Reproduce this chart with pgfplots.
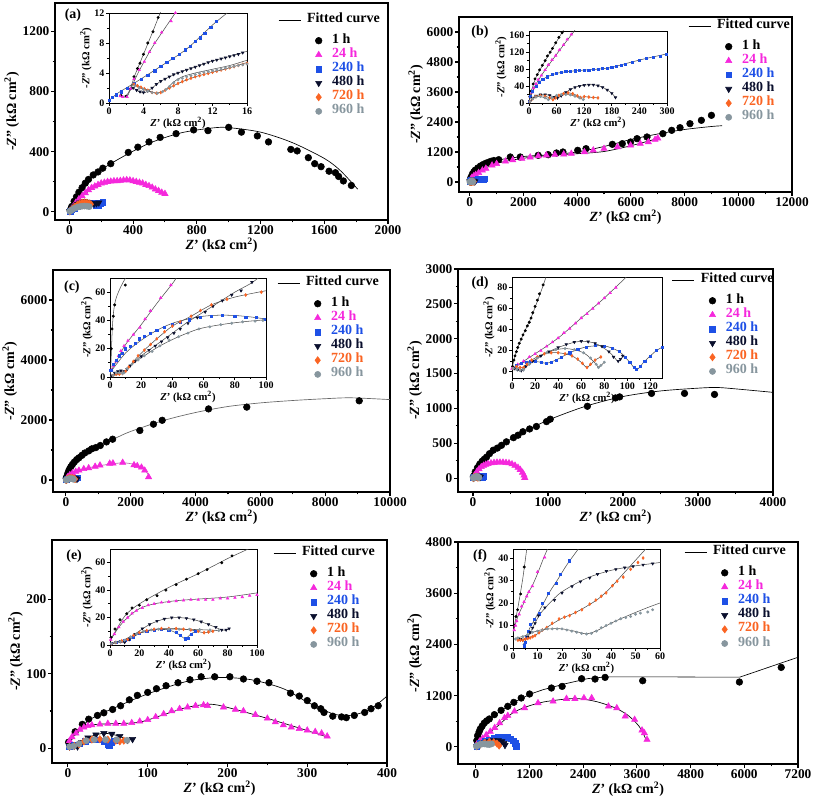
\documentclass[border=0pt]{standalone}
\usepackage{fontspec}
\setmainfont{Liberation Serif}
\usepackage{pgfplots}
\pgfplotsset{compat=1.18}
\definecolor{c24}{RGB}{245,40,220}
\definecolor{c240}{RGB}{30,80,230}
\definecolor{c480}{RGB}{10,15,45}
\definecolor{c720}{RGB}{250,100,35}
\definecolor{c960}{RGB}{135,150,158}
\tikzset{plab/.style={font=\bfseries\fontsize{10.5}{12}\selectfont}}
\pgfplotsset{
 legm/.style={legend image code/.code={\path[draw=none,fill=none] (0pt,0pt) rectangle (16.5pt,0pt); \draw[overlay,##1] plot coordinates {(30pt,0pt)};}},
 m1/.style={only marks, mark=*, mark size=2.5pt, black, legm},
 m24/.style={only marks, mark=triangle*, mark size=2.7pt, color=c24, legm},
 m240/.style={only marks, mark=square*, mark size=2.1pt, color=c240, legm},
 m480/.style={only marks, mark=triangle*, mark size=2.7pt, mark options={rotate=180}, color=c480, legm},
 m720/.style={only marks, mark=diamond*, mark size=2.7pt, color=c720, legm},
 m960/.style={only marks, mark=*, mark size=2.3pt, color=c960, legm},
 i1/.style={only marks, mark=*, mark size=0.9pt, black},
 i24/.style={only marks, mark=triangle*, mark size=1.1pt, color=c24},
 i240/.style={only marks, mark=square*, mark size=0.8pt, color=c240},
 i480/.style={only marks, mark=triangle*, mark size=1.1pt, mark options={rotate=180}, color=c480},
 i720/.style={only marks, mark=diamond*, mark size=1.1pt, color=c720},
 i960/.style={only marks, mark=*, mark size=0.9pt, color=c960},
 fl/.style={black, line width=0.5pt, smooth, no marks, forget plot},
 ifl/.style={black!70, line width=0.4pt, smooth, no marks, forget plot},
 mainax/.style={scale only axis, anchor=south west, axis line style={line width=1.1pt},
   tick align=outside, xtick pos=left, ytick pos=left, major tick length=3pt, minor tick length=1.8pt,
   every tick/.style={line width=0.8pt, black}, minor x tick num=1, minor y tick num=1,
   tick label style={font=\bfseries\fontsize{10}{12}\selectfont, inner sep=1pt},
   label style={font=\bfseries\fontsize{10.5}{12}\selectfont, inner sep=1.5pt},
   xlabel={\textit{Z}' (kΩ cm\textsuperscript{2})}, ylabel={-\textit{Z}'' (kΩ cm\textsuperscript{2})},
   /pgf/number format/assume math mode=true, /pgf/number format/1000 sep={}, scaled ticks=false,
   legend cell align=left,
   legend style={anchor=north west, draw=none, fill=none, inner sep=0pt, column sep=4.5pt,
     font=\bfseries\fontsize{10.5}{12}\selectfont, nodes={inner sep=0pt, text height=7.2pt, text depth=3.4pt}}},
 insax/.style={scale only axis, anchor=south west, axis line style={line width=0.7pt},
   axis background/.style={fill=white},
   tick align=outside, xtick pos=left, ytick pos=left, major tick length=2.2pt, minor tick length=1.3pt,
   every tick/.style={line width=0.6pt, black}, minor x tick num=1, minor y tick num=1,
   tick label style={font=\bfseries\fontsize{7.5}{9}\selectfont, inner sep=1pt},
   label style={font=\bfseries\fontsize{8}{9}\selectfont, inner sep=1pt},
   xlabel={\textit{Z}' (kΩ cm\textsuperscript{2})}, ylabel={-\textit{Z}'' (kΩ cm\textsuperscript{2})},
   /pgf/number format/assume math mode=true, /pgf/number format/1000 sep={}, scaled ticks=false},
 fitleg/.style={legend image code/.code={\draw[black,line width=0.5pt] (0pt,0pt)--(16.5pt,0pt); \path[draw=none] (0pt,-10pt) -- (0pt,-10pt);}}
}
\begin{document}
\begin{tikzpicture}
\useasboundingbox (0,0) rectangle (609.75pt,600pt);
%%%%%%%%%%%%%%%% (a)
\begin{axis}[mainax, at={(41.25pt,435pt)}, width=249.75pt, height=162.75pt,
 xmin=-90, xmax=2000, ymin=-55, ymax=1390, xtick={0,400,...,2000}, ytick={0,400,800,1200},
 legend style={at={(0.67,0.954)}}]
\addlegendimage{fitleg}\addlegendentry{Fitted curve}
\addplot[m1] coordinates {(5,10)(15,35)(30,70)(45,100)(60,130)(80,160)(100,190)(120,215)(150,245)(180,265)(210,290)(260,320)(370,395)(430,430)(500,465)(570,495)(670,520)(780,545)(870,540)(1000,562)(1080,530)(1180,505)(1250,465)(1390,415)(1430,405)(1500,360)(1540,320)(1580,300)(1630,270)(1670,260)(1690,235)(1720,205)(1770,175)};
\addlegendentry{\hspace{18.75pt}1 h}
\addplot[m24] coordinates {(10,15)(20,30)(40,60)(60,85)(80,105)(100,125)(120,145)(140,160)(160,170)(180,180)(200,190)(220,195)(240,200)(260,202)(280,205)(300,205)(320,207)(340,210)(360,212)(380,210)(400,205)(420,200)(440,195)(460,190)(480,180)(500,172)(520,162)(540,150)(560,140)(580,128)(600,120)};
\addlegendentry{\hspace{18.75pt}\textcolor{c24}{24 h}}
\addplot[m240] coordinates {(5,5)(15,15)(30,25)(50,35)(70,42)(90,48)(110,53)(130,56)(150,55)(165,45)(175,40)(185,45)(195,58)(210,65)};
\addlegendentry{\hspace{18.75pt}\textcolor{c240}{240 h}}
\addplot[m480] coordinates {(3,4)(10,12)(20,25)(35,40)(50,52)(65,60)(80,66)(95,68)(110,65)(125,60)(140,55)(155,52)(170,55)(185,60)};
\addlegendentry{\hspace{18.75pt}\textcolor{c480}{480 h}}
\addplot[m720] coordinates {(3,3)(10,10)(20,22)(35,35)(50,46)(65,55)(80,60)(95,62)(110,60)(125,55)(135,50)};
\addlegendentry{\hspace{18.75pt}\textcolor{c720}{720 h}}
\addplot[m960] coordinates {(3,3)(10,8)(20,15)(35,24)(50,30)(65,34)(80,37)(95,38)(110,37)(125,34)};
\addlegendentry{\hspace{18.75pt}\textcolor{c960}{960 h}}
\addplot[fl] coordinates {(0,0)(50,110)(150,240)(300,345)(500,455)(700,525)(900,558)(1000,560)(1200,530)(1400,460)(1600,355)(1700,275)(1810,150)};
\addplot[fl] coordinates {(0,0)(60,80)(150,160)(250,195)(370,205)(450,190)(520,160)(600,110)};
\addplot[fl] coordinates {(3,4)(20,25)(50,52)(80,66)(110,65)(140,55)(170,55)(185,60)};
\node[plab] at (rel axis cs:0.054,0.945) {(a)};
\end{axis}
\begin{axis}[insax, at={(81.75pt,522.75pt)}, width=103.5pt, height=67.5pt,
 xmin=0, xmax=16, ymin=0, ymax=12, xtick={0,4,...,16}, ytick={0,4,8,12}]
\addplot[i1] coordinates {(1.4,1.0)(2.0,0.9)(2.5,1.9)(2.9,3.5)(3.3,4.6)(3.6,5.3)(4.0,6.5)(4.5,8.0)(5.1,9.5)(5.7,11.4)};
\addplot[ifl] coordinates {(1.2,1.1)(1.6,0.9)(2.1,1.1)(2.5,2.0)(3.0,3.7)(4.0,6.5)(5.0,9.3)(6.0,12.2)};
\addplot[i24] coordinates {(1.3,0.9)(1.6,0.8)(2.1,0.8)(2.5,1.9)(2.9,3.2)(3.5,4.4)(4.1,5.5)(4.7,6.8)(5.3,8.0)(6.1,9.4)(7.2,10.9)(7.7,12)};
\addplot[ifl] coordinates {(1.2,1.0)(1.5,0.8)(2.1,0.9)(2.6,2.1)(3.5,4.3)(5.0,7.4)(6.5,10.0)(7.8,12.2)};
\addplot[i240] coordinates {(0,0.4)(0.4,0.8)(0.8,1.1)(1.4,1.5)(2.1,2.0)(2.9,2.6)(3.7,3.2)(4.5,3.7)(5.3,4.3)(6.0,4.9)(6.7,5.4)(7.4,6.0)(8.1,6.5)(8.8,7.1)(9.4,7.6)(10.0,8.2)(10.6,8.7)(11.1,9.3)(11.8,10.1)(12.4,10.9)};
\addplot[ifl] coordinates {(0,0.3)(1,1.3)(3,2.7)(6,4.9)(9,7.2)(12,10.4)(13.7,12)};
\addplot[i480] coordinates {(2.8,2.0)(3.2,1.7)(3.6,1.5)(4.0,1.4)(4.5,1.6)(5.0,2.0)(5.5,2.5)(6.0,2.9)(6.5,3.2)(7.0,3.5)(7.5,3.8)(8.0,4.0)(8.5,4.2)(9.0,4.4)(9.5,4.6)(10,4.8)(10.5,5.0)(11,5.2)(11.5,5.4)(12,5.6)(12.5,5.75)(13,5.9)(13.5,6.05)(14,6.2)(14.5,6.35)(15,6.5)(15.5,6.7)};
\addplot[ifl] coordinates {(2.7,2.1)(3.5,1.5)(4.1,1.35)(5.0,2.0)(6.0,2.9)(8,4.0)(10,4.8)(12,5.6)(14,6.2)(16,6.9)};
\addplot[i720] coordinates {(2.9,2.5)(3.3,2.3)(3.7,2.1)(4.1,1.9)(4.5,1.7)(5.0,1.4)(5.5,1.3)(6.0,1.4)(6.5,1.7)(7.0,2.0)(7.5,2.3)(8.0,2.6)(8.5,2.85)(9,3.1)(9.5,3.3)(10,3.5)(10.5,3.65)(11,3.8)(11.5,3.95)(12,4.1)(12.5,4.25)(13,4.4)(13.5,4.55)(14,4.7)(14.5,4.85)(15,5.0)(15.5,5.15)(16,5.3)};
\addplot[ifl] coordinates {(2.8,2.6)(4,1.95)(5.5,1.3)(6.5,1.7)(8,2.6)(10,3.5)(12,4.1)(14,4.7)(16,5.4)};
\addplot[i960] coordinates {(3.0,2.3)(3.5,2.0)(4,1.8)(4.5,1.6)(5,1.4)(5.6,1.3)(6.2,1.5)(6.6,1.8)(7,2.2)(7.5,2.7)(8,3.1)(8.5,3.3)(9,3.5)(9.5,3.65)(10,3.8)(10.5,3.95)(11,4.1)(11.5,4.2)(12,4.3)(12.5,4.4)(13,4.5)(13.5,4.65)(14,4.8)(14.5,4.9)(15,5.0)(15.5,5.1)(16,5.2)};
\addplot[ifl] coordinates {(3,2.35)(4.5,1.6)(5.6,1.3)(6.5,1.7)(7.5,2.8)(8.5,3.5)(10,4.0)(12,4.5)(14,5.0)(16,5.7)};
\end{axis}
%%%%%%%%%%%%%%%% (b)
\begin{axis}[mainax, at={(344.25pt,456pt)}, width=249.75pt, height=131.25pt,
 xmin=-400, xmax=12000, ymin=-400, ymax=6600, xtick={0,2000,...,12000}, ytick={0,1200,...,6000},
 legend style={at={(0.688,0.989)}}]
\addlegendimage{fitleg}\addlegendentry{Fitted curve}
\addplot[m1] coordinates {(20,100)(50,200)(100,320)(150,400)(200,470)(300,560)(400,640)(500,700)(600,750)(700,790)(800,830)(900,860)(1080,893)(1510,1000)(1880,1000)(2550,1067)(2920,1093)(3230,1160)(3470,1200)(4020,1267)(4330,1333)(5310,1507)(5680,1533)(5990,1600)(6230,1733)(6600,1800)(7190,1933)(7520,2067)(7830,2173)(8200,2333)(8625,2467)(9000,2667)};
\addlegendentry{\hspace{18.75pt}1 h}
\addplot[m24] coordinates {(30,100)(80,180)(150,240)(220,290)(330,370)(470,467)(600,540)(830,667)(1000,730)(1330,827)(1600,880)(1940,933)(2250,990)(2550,1040)(2850,1070)(3170,1093)(3500,1110)(3780,1133)(4270,1200)(4600,1270)(5000,1333)(5500,1400)(5990,1467)(6350,1533)(6650,1600)(6900,1693)(7000,1750)};
\addlegendentry{\hspace{18.75pt}\textcolor{c24}{24 h}}
\addplot[m240] coordinates {(5,15)(20,40)(50,60)(100,72)(150,78)(200,82)(250,95)(300,115)(350,125)(400,130)(450,125)(500,120)(550,130)};
\addlegendentry{\hspace{18.75pt}\textcolor{c240}{240 h}}
\addplot[m480] coordinates {(5,10)(20,20)(40,20)(60,12)(80,25)(100,37)(130,43)(160,37)(188,13)};
\addlegendentry{\hspace{18.75pt}\textcolor{c480}{480 h}}
\addplot[m720] coordinates {(5,8)(20,15)(40,15)(55,10)(75,22)(95,22)(115,13)(150,12)};
\addlegendentry{\hspace{18.75pt}\textcolor{c720}{720 h}}
\addplot[m960] coordinates {(5,8)(20,14)(40,10)(60,18)(80,20)(100,16)(118,8)};
\addlegendentry{\hspace{18.75pt}\textcolor{c960}{960 h}}
\addplot[fl] coordinates {(0,0)(200,450)(500,690)(1000,870)(2000,1020)(3000,1090)(4000,1200)(5000,1420)(6000,1700)(7000,1920)(8000,2100)(9000,2220)(9400,2250)};
\addplot[fl] coordinates {(0,0)(300,380)(1000,740)(2000,950)(3000,1070)(4000,1130)(5000,1220)(6000,1450)(7000,1740)};
\node[plab] at (rel axis cs:0.063,0.914) {(b)};
\end{axis}
\begin{axis}[insax, at={(396.75pt,522.75pt)}, width=103.5pt, height=54pt,
 xmin=0, xmax=300, ymin=0, ymax=170, xtick={0,60,...,300}, ytick={0,40,...,160}]
\addplot[i1] coordinates {(2,15)(5,28)(9,45)(13,57)(18,67)(23,78)(29,89)(35,100)(40,111)(46,120)(51,129)(58,142)(65,155)(72,166)};
\addplot[ifl] coordinates {(0,3)(5,28)(15,60)(30,90)(50,127)(70,163)(75,172)};
\addplot[i24] coordinates {(3,15)(6,25)(10,35)(15,45)(20,55)(27,65)(35,78)(42,90)(50,102)(58,112)(66,125)(75,137)(83,150)(92,162)};
\addplot[ifl] coordinates {(0,5)(10,34)(30,70)(60,115)(90,158)(100,172)};
\addplot[i240] coordinates {(1,5)(3,15)(8,28)(15,40)(22,49)(30,56)(40,62)(50,67)(60,70)(70,72)(80,74)(90,75)(100,76)(110,77)(120,77)(130,78)(140,79)(150,80)(160,81)(170,82)(180,84)(190,86)(200,89)(210,92)(225,97)(240,101)(255,105)(270,108)(285,111)(298,115)};
\addplot[ifl] coordinates {(0,2)(10,32)(30,56)(60,70)(100,76)(150,80)(180,84)(210,93)(250,104)(300,116)};
\addplot[i480] coordinates {(2,3)(8,12)(15,17)(25,20)(35,20)(45,18)(55,14)(62,12)(70,17)(80,25)(90,32)(100,37)(110,40)(120,42)(130,43)(140,43)(150,41)(160,37)(170,31)(180,23)(188,13)};
\addplot[ifl] coordinates {(2,3)(8,12)(15,17)(25,20)(35,20)(45,18)(55,14)(62,12)(70,17)(80,25)(90,32)(100,37)(110,40)(120,42)(130,43)(140,43)(150,41)(160,37)(170,31)(180,23)(188,13)};
\addplot[i720] coordinates {(2,3)(8,10)(15,15)(25,17)(35,16)(45,12)(52,8)(58,12)(65,18)(75,22)(85,24)(95,22)(105,17)(112,13)(120,15)(130,14)(140,13)(150,12)};
\addplot[ifl] coordinates {(2,3)(8,10)(15,15)(25,17)(35,16)(45,12)(52,8)(58,12)(65,18)(75,22)(85,24)(95,22)(105,17)(112,13)(120,15)(130,14)(140,13)(150,12)};
\addplot[i960] coordinates {(2,3)(8,10)(15,14)(25,15)(35,12)(42,8)(50,13)(60,18)(70,20)(80,20)(90,19)(100,16)(110,12)(118,8)};
\addplot[ifl] coordinates {(2,3)(8,10)(15,14)(25,15)(35,12)(42,8)(50,13)(60,18)(70,20)(80,20)(90,19)(100,16)(110,12)(118,8)};
\end{axis}
%%%%%%%%%%%%%%%% (c)
\begin{axis}[mainax, at={(39.75pt,231pt)}, width=252.75pt, height=166.5pt,
 xmin=-400, xmax=10000, ymin=-400, ymax=7000, xtick={0,2000,...,10000}, ytick={0,2000,4000,6000},
 legend style={at={(0.665,0.973)}}]
\addlegendimage{fitleg}\addlegendentry{Fitted curve}
\addplot[m1] coordinates {(10,60)(20,100)(50,200)(80,290)(110,360)(150,440)(200,520)(260,600)(330,680)(400,740)(490,820)(580,900)(700,970)(800,1040)(920,1080)(1060,1150)(1250,1270)(1440,1360)(2280,1650)(2700,1860)(2970,1990)(4400,2370)(5580,2430)(9050,2640)};
\addlegendentry{\hspace{18.75pt}1 h}
\addplot[m24] coordinates {(20,50)(60,110)(120,170)(200,230)(300,280)(400,320)(550,370)(700,400)(900,450)(1050,490)(1350,550)(1450,560)(1750,580)(2100,500)(2200,470)(2330,420)(2430,320)(2550,100)};
\addlegendentry{\hspace{18.75pt}\textcolor{c24}{24 h}}
\addplot[m240] coordinates {(5,10)(20,25)(40,35)(70,42)(100,44)(150,43)(200,40)(250,45)(300,60)(350,80)};
\addlegendentry{\hspace{18.75pt}\textcolor{c240}{240 h}}
\addplot[m480] coordinates {(5,3)(10,5)(20,15)(40,30)(60,45)(80,55)(100,62)(150,75)(200,80)(250,70)(300,50)(340,30)};
\addlegendentry{\hspace{18.75pt}\textcolor{c480}{480 h}}
\addplot[m720] coordinates {(5,2)(15,8)(30,20)(50,35)(80,50)(100,60)(150,70)(200,65)(250,50)(280,30)};
\addlegendentry{\hspace{18.75pt}\textcolor{c720}{720 h}}
\addplot[m960] coordinates {(5,2)(15,8)(30,15)(50,25)(80,33)(100,40)(150,45)(200,40)(230,25)};
\addlegendentry{\hspace{18.75pt}\textcolor{c960}{960 h}}
\addplot[fl, black!60] coordinates {(0,0)(100,330)(300,650)(600,880)(1000,1120)(1500,1380)(2000,1620)(3000,1980)(4000,2250)(5000,2450)(6000,2570)(7000,2650)(8000,2710)(8800,2740)(10000,2680)};
\addplot[fl, c24!50!black!60] coordinates {(0,0)(200,240)(500,360)(1000,470)(1500,550)(1800,570)(2100,520)(2400,380)(2580,100)};
\node[plab] at (rel axis cs:0.056,0.923) {(c)};
\end{axis}
\begin{axis}[insax, at={(82.5pt,317.25pt)}, width=117pt, height=74.25pt,
 xmin=0, xmax=100, ymin=0, ymax=70, xtick={0,20,...,100}, ytick={0,20,40,60}]
\addplot[i1] coordinates {(0.8,20)(1.3,34)(2.1,43)(3,51)(9.8,65)};
\addplot[ifl] coordinates {(0.3,0)(0.8,15)(1.5,35)(2.5,48)(4,56)(7,64)(10.5,71)};
\addplot[i24] coordinates {(1,5)(2,8)(3.8,11)(5.5,15)(7,18.5)(9,22)(11.5,25.7)(15,30)(19.2,35)(22.5,41)(25.9,46.8)(32.5,56)(39,65)};
\addplot[ifl] coordinates {(0,3)(5,13)(10,23)(20,37)(30,52)(40,66)(43,71)};
\addplot[i240] coordinates {(0.5,5)(2,9)(4,12)(6,15)(8,17)(10,20)(13,22)(16,24)(19,27)(22,29)(26,31)(30,33)(35,35)(40,37)(45,39)(51,40.5)(58,42)(65,43)(72,43.5)(80,43)(87,42.5)(94,42)(99,41)};
\addplot[ifl] coordinates {(0,3)(10,17)(20,26)(30,33)(40,38)(50,41)(60,43)(70,43.7)(80,43.5)(90,42.5)(100,41)};
\addplot[i480] coordinates {(1,1)(3,3)(5,4)(7,4.5)(9,4)(11,5.5)(13,8)(16,11)(20,14.5)(25,19)(29,22)(33,25)(37,28)(41,31)(45,34)(50,38)(56,42)(61,46)(66,50)(72,54)(78,58)(84,61)(91,67)};
\addplot[ifl] coordinates {(0,0)(5,4)(9,3.5)(13,8)(20,15)(30,23)(40,31)(50,39)(60,46)(70,53)(80,60)(90,66)(95,70)};
\addplot[i720] coordinates {(2,1)(4,2)(6,2)(8,2.5)(10,4)(12,7)(15,11)(18,15)(22,19)(26,23)(30,27)(35,32)(40,36)(45,39)(52,43)(58,47)(65,51)(75,55)(87,58)(97,60)};
\addplot[ifl] coordinates {(2,1)(6,2)(10,4)(15,11)(22,19)(30,27)(40,36)(52,43)(65,51)(80,56.5)(100,61)};
\addplot[i960] coordinates {(2,1)(4,3)(6,3)(8,2.5)(9,3)(11,6)(14,9)(18,12)(22,15)(27,18)(32,22)(38,26)(44,28.5)(50,31)(57,34)(64,35.5)(71,37)(78,38)(85,39)(93,39.5)(98,40)};
\addplot[ifl] coordinates {(2,1)(6,3)(9,3)(14,9)(22,15)(32,22)(44,28.5)(57,34)(71,37)(85,39)(100,40.5)};
\end{axis}
%%%%%%%%%%%%%%%% (d)
\begin{axis}[mainax, at={(343.5pt,231pt)}, width=236.25pt, height=167.25pt,
 xmin=-200, xmax=4000, ymin=-200, ymax=3000, xtick={0,1000,...,4000}, ytick={0,500,...,3000},
 legend style={at={(0.679,0.982)}}]
\addlegendimage{fitleg}\addlegendentry{Fitted curve}
\addplot[m1] coordinates {(5,15)(10,30)(30,90)(60,150)(90,200)(120,240)(150,270)(180,300)(220,350)(270,400)(325,430)(380,470)(445,520)(540,580)(600,615)(665,665)(755,705)(845,740)(980,810)(1030,845)(1525,1030)(1900,1150)(1955,1165)(2380,1215)(2820,1215)(3220,1200)};
\addlegendentry{\hspace{18.75pt}1 h}
\addplot[m24] coordinates {(20,40)(50,90)(80,130)(110,160)(140,180)(170,195)(200,205)(240,215)(280,220)(320,225)(360,225)(400,225)(440,220)(480,215)(520,200)(560,180)(600,150)(630,120)(660,80)(680,40)(690,5)};
\addlegendentry{\hspace{18.75pt}\textcolor{c24}{24 h}}
\addplot[m240] coordinates {(2,5)(10,8)(20,10)(30,8)(40,12)(60,20)(75,25)(90,22)(108,2)(120,15)(130,23)(145,30)};
\addlegendentry{\hspace{18.75pt}\textcolor{c240}{240 h}}
\addplot[m480] coordinates {(2,3)(10,2)(20,12)(40,23)(60,29)(80,23)(92,10)(96,15)};
\addlegendentry{\hspace{18.75pt}\textcolor{c480}{480 h}}
\addplot[m720] coordinates {(2,3)(10,4)(20,13)(35,18)(50,16)(65,4)(77,14)};
\addlegendentry{\hspace{18.75pt}\textcolor{c720}{720 h}}
\addplot[m960] coordinates {(2,3)(10,2)(22,13)(40,21)(55,21)(73,7)(80,9)};
\addlegendentry{\hspace{18.75pt}\textcolor{c960}{960 h}}
\addplot[fl] coordinates {(0,0)(100,210)(300,410)(600,620)(1000,830)(1500,1030)(2000,1170)(2500,1250)(3000,1290)(3250,1300)(3500,1280)(4000,1230)};
\addplot[fl] coordinates {(0,0)(60,100)(150,175)(250,210)(380,215)(480,200)(580,150)(650,80)(690,10)};
\node[plab] at (rel axis cs:0.07,0.937) {(d)};
\end{axis}
\begin{axis}[insax, at={(384pt,316.5pt)}, width=112.5pt, height=75.75pt,
 xmin=0, xmax=130, ymin=-6, ymax=90, xtick={0,20,...,120}, ytick={0,20,...,80}]
\addplot[i1] coordinates {(0.5,5)(1.6,11)(2.6,15)(3.8,19)(5,23)(6.3,27)(8,31)(9.5,35)(11.5,39)(13.3,43.5)(15,47)(16.5,51)(18,56)(20,62)(22,68)(23.8,74)(27,82.5)};
\addplot[ifl] coordinates {(0,3)(4,20)(10,36)(16,50)(22,67)(27,82)(30,92)};
\addplot[i24] coordinates {(0,3)(5,7)(10,10)(15,14)(20,17)(25,20)(30,24)(35,28)(40,32)(45,37)(50,41)(55,46)(60,51)(65,55)(70,60)(75,65)(80,70)(85,75)(90,80)};
\addplot[ifl] coordinates {(0,3)(20,17)(40,32)(60,51)(80,70)(100,91)};
\addplot[i240] coordinates {(1,3)(4,6)(8,8)(12,9)(16,10)(20,10)(25,9)(30,8)(34,9)(38,11)(43,14)(50,18)(57,21)(64,23.5)(72,25)(80,24.5)(87,22.5)(93,19)(98,14)(102,9)(106,4)(108,2)(111,5)(115,10)(120,15)(125,20)(130,23)};
\addplot[ifl] coordinates {(1,3)(8,8)(16,10)(25,9)(30,8)(38,11)(50,18)(64,23.5)(80,24.5)(93,19)(102,9)(108,2)(115,10)(125,20)(130,23)};
\addplot[i480] coordinates {(2,3)(5,2)(8,1)(10,2)(12,5)(18,10)(25,15)(32,19)(40,23)(47,26)(54,28)(60,29)(66,28.5)(72,27)(78,24)(84,19)(88,14)(92,10)(94,12)(96,15)};
\addplot[ifl] coordinates {(2,3)(8,1)(12,5)(25,15)(40,23)(54,28)(60,29)(72,27)(84,19)(92,10)(96,15)};
\addplot[i720] coordinates {(1,3)(4,5)(7,4)(10,4)(13,7)(17,11)(22,14)(28,17)(34,18)(40,18)(46,17)(52,15)(57,12)(61,8)(65,4)(68,7)(72,11)(77,14)};
\addplot[ifl] coordinates {(1,3)(7,4)(10,4)(17,11)(28,17)(40,18)(52,15)(61,8)(65,4)(72,11)(77,14)};
\addplot[i960] coordinates {(1,3)(4,2)(7,1)(10,2)(15,7)(22,13)(30,18)(38,21)(46,22)(54,21)(62,18)(68,13)(73,7)(75,4)(77,6)(80,9)};
\addplot[ifl] coordinates {(1,3)(7,1)(15,7)(30,18)(46,22)(62,18)(73,7)(75,4)(80,9)};
\end{axis}
%%%%%%%%%%%%%%%% (e)
\begin{axis}[mainax, at={(39pt,27.75pt)}, width=251.25pt, height=167.25pt,
 xmin=-20, xmax=400, ymin=-20, ymax=280, xtick={0,100,...,400}, ytick={0,100,200},
 legend style={at={(0.66,0.973)}}]
\addlegendimage{fitleg}\addlegendentry{Fitted curve}
\addplot[m1] coordinates {(0.8,8)(9,22)(18,32)(26,39)(37,44)(45,47.5)(56,52)(66,57)(77,65)(87,71)(100,75)(111,80)(123,84)(138,88)(153,92)(167,96)(184,96)(203,96)(220,93)(237,90)(252,88)(279,74)(290,70)(300,64)(309,57)(317,53)(321,48)(332,43)(343,42)(349,41)(359,44)(372,48)(380,53)(389,57)};
\addlegendentry{\hspace{18.75pt}1 h}
\addplot[m24] coordinates {(2,10)(5,15)(10,20)(15,25)(20,28)(25,30)(30,31)(40,32)(50,33)(60,33)(70,33)(80,34)(90,36)(100,38)(110,42)(120,46)(130,50)(140,53)(150,55)(160,57)(170,58)(175,57)(195,55)(210,52)(220,50)(235,45)(250,40)(260,35)(270,31)(280,28)(290,26)(300,24)(310,22)(318,20)(325,16)};
\addlegendentry{\hspace{18.75pt}\textcolor{c24}{24 h}}
\addplot[m240] coordinates {(2,2)(8,4)(15,6)(22,9)(30,11)(38,11)(45,9)(50,5)(52,4)(55,8)(58,10)};
\addlegendentry{\hspace{18.75pt}\textcolor{c240}{240 h}}
\addplot[m480] coordinates {(2,2)(8,3)(12,2)(17,8)(25,14)(35,18)(45,20)(55,19)(65,16)(75,11)(81,12)};
\addlegendentry{\hspace{18.75pt}\textcolor{c480}{480 h}}
\addplot[m720] coordinates {(2,2)(8,3)(14,5)(20,9)(30,11.5)(40,12)(50,11.5)(60,10)(65,9)(70,10)};
\addlegendentry{\hspace{18.75pt}\textcolor{c720}{720 h}}
\addplot[m960] coordinates {(2,2)(7,2.5)(14,6)(23,10)(33,11.5)(47,11.5)(61,11.2)(74,10.5)};
\addlegendentry{\hspace{18.75pt}\textcolor{c960}{960 h}}
\addplot[fl] coordinates {(0,0)(10,22)(30,40)(60,55)(100,73)(150,90)(190,95)(230,92)(270,80)(300,62)(330,47)(345,44)(360,45)(380,53)(400,70)};
\addplot[fl] coordinates {(0,0)(10,20)(30,31)(60,33)(90,35)(120,45)(150,55)(180,59)(210,52)(250,40)(290,27)(325,15)};
\addplot[fl] coordinates {(2,2)(12,2)(25,14)(45,20)(65,16)(75,11)(81,12)};
\node[plab] at (rel axis cs:0.066,0.928) {(e)};
\end{axis}
\begin{axis}[insax, at={(82.5pt,116.25pt)}, width=110.25pt, height=72pt,
 xmin=0, xmax=100, ymin=0, ymax=70, xtick={0,20,...,100}, ytick={0,20,40,60}]
\addplot[i1] coordinates {(0.7,5.5)(3.4,11.7)(6.8,18.4)(11.4,22.8)(15,27)(20,29)(25,33)(32,36)(38,40)(45,44)(52,48)(60,52)(66,55)(76,60)(83,65)};
\addplot[ifl] coordinates {(0,3)(10,21)(20,30)(40,42)(60,52)(80,63)(90,68)(95,70.5)};
\addplot[i24] coordinates {(0.5,4)(3,8)(6,13)(9,17)(12,20)(15,23)(18,25)(22,27)(26,29)(30,30)(35,31)(40,31.5)(45,32)(50,32.5)(55,33)(60,33)(65,33)(70,33)(75,34)(80,34)(85,34.5)(90,35)(95,36)(100,36.5)};
\addplot[ifl] coordinates {(0,3)(6,13)(12,20)(20,26.5)(30,30)(45,32.3)(60,33.5)(80,35)(100,38)};
\addplot[i240] coordinates {(1,1)(4,2)(7,3)(10,3.5)(13,4)(16,6)(20,8.5)(25,10)(30,11)(35,11.5)(40,11)(45,9)(48,7)(51,4.5)(53,5)(55,8)(58,10)};
\addplot[ifl] coordinates {(1,1)(7,3)(13,4)(20,8.5)(30,11)(40,11)(48,7)(51,4.5)(55,8)(58,10)};
\addplot[i480] coordinates {(1,1)(4,2)(7,2.5)(10,2)(13,4)(17,8)(22,12)(27,15)(32,17.5)(37,19)(42,20)(47,20)(52,19.5)(57,18.5)(62,17)(67,15)(72,13)(76,11)(79,11)(81,12)};
\addplot[ifl] coordinates {(1,1)(7,2.5)(10,2)(17,8)(27,15)(37,19)(47,20)(57,18.5)(67,15)(76,11)(79,11)(81,12)};
\addplot[i720] coordinates {(1,1)(4,2)(8,3)(12,4)(16,7)(20,9)(25,10.5)(30,11.5)(35,12)(40,12)(45,12)(50,11.5)(55,11)(60,10)(64,9)(67,9.5)(70,10)};
\addplot[ifl] coordinates {(1,1)(8,3)(16,7)(25,10.5)(35,12)(45,12)(55,11)(64,9)(70,10)};
\addplot[i960] coordinates {(1,1)(4,2)(7,2.5)(10,3.5)(14,6)(18,8)(23,10)(28,11)(33,11.5)(40,11.5)(47,11.5)(54,11.5)(61,11.2)(68,11)(74,10.5)};
\addplot[ifl] coordinates {(1,1)(7,2.5)(14,6)(23,10)(33,11.5)(47,11.5)(61,11.2)(74,10.5)};
\end{axis}
%%%%%%%%%%%%%%%% (f)
\begin{axis}[mainax, at={(343.5pt,27pt)}, width=255pt, height=166.5pt,
 xmin=-400, xmax=7200, ymin=-400, ymax=4800, xtick={0,1200,...,7200}, ytick={0,1200,...,4800},
 legend style={at={(0.665,0.986)}}]
\addlegendimage{fitleg}\addlegendentry{Fitted curve}
\addplot[m1] coordinates {(20,150)(38,265)(70,350)(98,420)(140,490)(188,560)(240,610)(300,655)(413,756)(563,857)(713,951)(848,1044)(1013,1146)(1200,1240)(1688,1380)(1928,1418)(2363,1598)(2663,1590)(2888,1629)(3728,1551)(5890,1520)(6825,1863)};
\addlegendentry{\hspace{18.75pt}1 h}
\addplot[m24] coordinates {(20,60)(80,130)(150,200)(230,280)(320,360)(420,450)(530,560)(640,680)(713,733)(863,834)(1088,912)(1388,1029)(1725,1068)(2025,1130)(2213,1130)(2415,1146)(2588,1146)(2963,951)(3150,912)(3338,717)(3548,639)(3713,390)(3765,327)(3825,171)};
\addlegendentry{\hspace{18.75pt}\textcolor{c24}{24 h}}
\addplot[m240] coordinates {(20,20)(100,80)(200,130)(300,170)(400,200)(500,220)(600,230)(700,220)(780,190)(840,140)(880,80)(900,20)};
\addlegendentry{\hspace{18.75pt}\textcolor{c240}{240 h}}
\addplot[m480] coordinates {(20,20)(100,60)(200,100)(300,130)(400,150)(500,150)(580,130)(630,90)(650,40)};
\addlegendentry{\hspace{18.75pt}\textcolor{c480}{480 h}}
\addplot[m720] coordinates {(20,20)(100,60)(200,100)(300,120)(400,110)(470,80)(520,30)};
\addlegendentry{\hspace{18.75pt}\textcolor{c720}{720 h}}
\addplot[m960] coordinates {(10,15)(50,40)(100,60)(150,70)(200,70)(250,60)(300,55)(350,70)};
\addlegendentry{\hspace{18.75pt}\textcolor{c960}{960 h}}
\addplot[black, line width=0.5pt, no marks, forget plot] coordinates {(0,0)(30,250)(100,400)(200,540)(300,640)(450,760)(600,880)(800,1010)(1000,1130)(1250,1250)(1500,1340)(2000,1480)(2500,1600)(2900,1640)(3500,1640)(4500,1640)(5000,1635)(5900,1635)(6500,1850)(7200,2100)};
\addplot[fl] coordinates {(0,0)(200,250)(500,500)(800,780)(1100,930)(1500,1050)(2000,1120)(2300,1130)(2700,1060)(3100,920)(3400,740)(3650,480)(3800,180)};
\addplot[fl] coordinates {(20,20)(200,130)(400,200)(600,230)(780,190)(880,80)(900,20)};
\addplot[fl] coordinates {(20,20)(200,100)(400,150)(580,130)(650,40)};
\node[plab] at (rel axis cs:0.065,0.937) {(f)};
\end{axis}
\begin{axis}[insax, at={(384.75pt,114pt)}, width=110.25pt, height=74.25pt,
 xmin=0, xmax=60, ymin=0, ymax=44, xtick={0,10,...,60}, ytick={0,10,...,40}]
\addplot[i1] coordinates {(0.5,10)(1.2,14)(1.9,17)(3.1,24)(4.6,36)};
\addplot[ifl] coordinates {(0,7)(2,18)(4,31)(5.6,44)};
\addplot[i24] coordinates {(0.5,8)(1,10)(1.5,12)(2.5,15)(3.5,18.5)(4.5,20.5)(5.6,23)(6.5,25)(7.9,27.5)(10,33.8)(12.9,40.3)};
\addplot[ifl] coordinates {(0,7)(2,14)(4,19)(6,24)(8,28)(10,33)(12.5,40)(14.5,45)};
\addplot[i240] coordinates {(4.5,1)(5,2.5)(5.6,4.6)(6.3,7.6)(7.1,10.6)(8.8,12.9)(10.6,15.2)(12.1,19.8)(14.4,24.3)(17.5,28.6)(19.4,32.7)(23.1,38.8)};
\addplot[ifl] coordinates {(4,1.5)(5,3)(6.5,8)(9,13)(12,19)(15,25)(18,30)(22,37)(27,44.5)};
\addplot[i480] coordinates {(3,4)(4,3.5)(5,4)(6,5)(7,7)(8,9)(9,11)(10.4,14.4)(13,18)(16.9,21.3)(20,24.5)(24.1,27.4)(27.5,29.5)(31.3,31.2)(34.5,32.8)(38.1,34.2)(42,35)(45.6,35.7)(49,36.3)(53.1,37)(57,37.5)};
\addplot[ifl] coordinates {(2,3.5)(4,3.5)(6,5)(8,9)(11,15)(15,20)(20,25)(30,31)(40,34.5)(50,36.5)(60,38)};
\addplot[i720] coordinates {(2,3.5)(3,3.5)(4,3.5)(5,4)(6,4.2)(7,4.5)(8,5)(9,5.5)(10.6,6.8)(12,8)(13.8,9.1)(16,11)(18.8,12.9)(21,13.7)(23.1,14.4)(25.5,15.8)(28.1,17)(31.3,19.5)(33.8,21.3)(36,23)(38,24.5)(40.6,27.7)(42.5,29.7)(45,31.5)(48,35)(51,38)(53.1,40)};
\addplot[ifl] coordinates {(2,3.5)(6,4.3)(10,6.3)(15,10)(20,13.2)(25,15.5)(30,18.5)(35,22)(40,27)(45,33)(50,39)(55,45)};
\addplot[i960] coordinates {(1,4)(2,4.5)(4,5)(6,6)(8,7)(10,7.5)(12,8)(14,8.5)(16,8.5)(18,8.5)(20,8.5)(22,8)(24,7.5)(26,7)(28,6.5)(30,6.2)(32,6.5)(34,7.5)(36,9)(38,10)(40,11)(42,12)(44,13)(46,13.5)(48,14)(50,15)(52,15.5)(55,16)(57,17)};
\addplot[ifl] coordinates {(1,4.3)(5,5.5)(10,7.7)(15,8.5)(20,8.5)(25,7.5)(30,6.3)(34,7.6)(40,11)(45,13.5)(50,15.8)(55,18)(60,20)};
\end{axis}
\end{tikzpicture}
\end{document}
